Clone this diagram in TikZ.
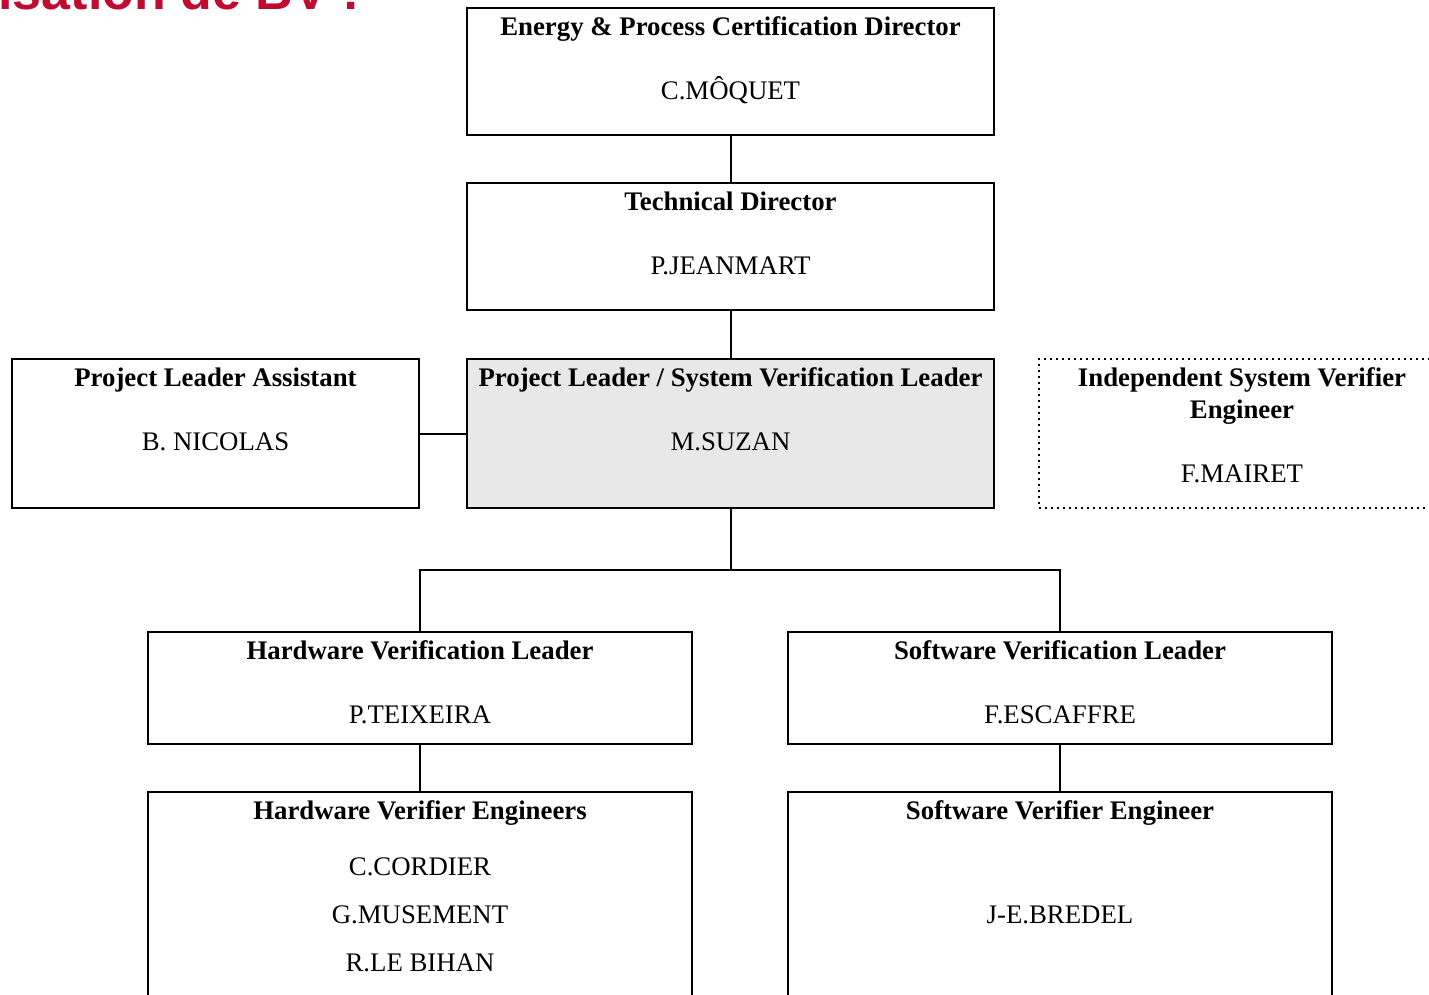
\documentclass[tikz,border=0pt]{standalone}
\usepackage{fontspec}
\setmainfont{Liberation Serif}
\setsansfont{Liberation Sans}
\definecolor{BVred}{HTML}{C00A30}
\definecolor{BVgray}{HTML}{E8E8E8}
\usetikzlibrary{calc, positioning}

\begin{document}
\begin{tikzpicture}[
      x=0.5pt, y=-0.5pt,
      box/.style={draw, line width=1pt, outer sep=0pt, inner sep=0pt,
                  minimum width=263.5pt, minimum height=63.5pt},
      txt/.style={anchor=north, inner sep=0pt, align=center,
                  font=\fontsize{13.4}{16}\selectfont},
      link/.style={line width=1pt}
   ]
      \useasboundingbox (0,0) rectangle (1429,995);
      \clip (0,0) rectangle (1429,995);

      \node[anchor=base east, inner sep=0pt, text=BVred,
            font=\fontsize{26}{30}\selectfont\sffamily\bfseries] (title) at (360,10) {Organisation de BV :};

      \node[box] (dir) at (730.5,71.5) {};
      \node[box, below=24pt of dir] (tech) {};
      \node[box, fill=BVgray, minimum height=74.5pt, below=24.5pt of tech] (pl) {};
      \node[box, minimum width=203.5pt, minimum height=74.5pt, left=24pt of pl] (pla) {};
      \node[box, dotted, line width=0.6pt, minimum width=203pt, minimum height=74.5pt, right=22.5pt of pl] (isv) {};

      \node[box, minimum width=272pt, minimum height=56pt] (hwl) at (420,688) {};
      \node[box, minimum width=272pt, minimum height=56pt, right=48pt of hwl] (swl) {};
      \node[box, minimum width=272pt, minimum height=115pt, below=24pt of hwl] (hwe) {};
      \node[box, minimum width=272pt, minimum height=115pt, below=24pt of swl] (swe) {};

      \node[txt] (dirT) at ([yshift=-4.3pt]dir.north) {\textbf{Energy \& Process Certification Director}\\[16pt]C.MÔQUET};
      \node[txt] (techT) at ([yshift=-4.3pt]tech.north) {\textbf{Technical Director}\\[16pt]P.JEANMART};
      \node[txt] (plT) at ([yshift=-4.3pt]pl.north) {\textbf{Project Leader / System Verification Leader}\\[16pt]M.SUZAN};
      \node[txt] (plaT) at ([yshift=-4.3pt]pla.north) {\textbf{Project Leader Assistant}\\[16pt]B. NICOLAS};
      \node[txt] (isvT) at ([yshift=-4.3pt]isv.north) {\textbf{Independent System Verifier}\\\textbf{Engineer}\\[16pt]F.MAIRET};
      \node[txt] (hwlT) at ([yshift=-4.3pt]hwl.north) {\textbf{Hardware Verification Leader}\\[16pt]P.TEIXEIRA};
      \node[txt] (swlT) at ([yshift=-4.3pt]swl.north) {\textbf{Software Verification Leader}\\[16pt]F.ESCAFFRE};
      \node[txt] (hweT) at ([yshift=-4.3pt]hwe.north) {\textbf{Hardware Verifier Engineers}\\[12pt]C.CORDIER\\[8pt]G.MUSEMENT\\[8pt]R.LE BIHAN};
      \node[txt] (sweT) at ([yshift=-4.3pt]swe.north) {\textbf{Software Verifier Engineer}\\[36pt]J-E.BREDEL};

      \coordinate (fork) at ($(pl.south)+(0,62)$);

      \draw[link] (dir) -- (tech);
      \draw[link] (tech) -- (pl);
      \draw[link] (pla) -- (pl);
      \draw[link] (pl.south) -- (fork);
      \draw[link] (hwl.north) |- (fork) -| (swl.north);
      \draw[link] (hwl) -- (hwe);
      \draw[link] (swl) -- (swe);
   \end{tikzpicture}
\end{document}
